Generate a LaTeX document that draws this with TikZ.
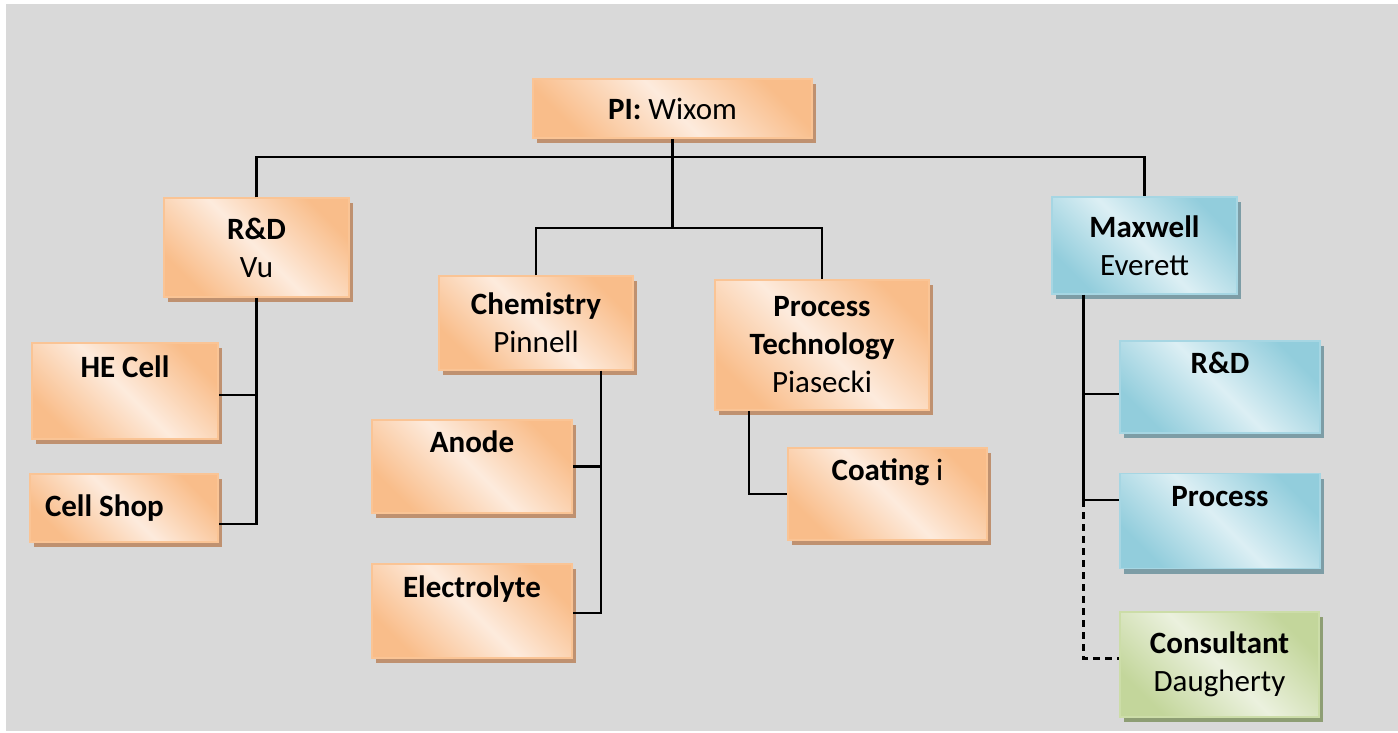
\documentclass[tikz,border=0pt]{standalone}
\usepackage{fontspec}
\setmainfont{Carlito}
\usepackage{tikz}
\usetikzlibrary{shadows}

\definecolor{bggray}{HTML}{D9D9D9}
\definecolor{ordark}{HTML}{F9BD8A}
\definecolor{orlight}{HTML}{FDEBDD}
\definecolor{orline}{HTML}{FAC495}
\definecolor{orshade}{HTML}{BF9170}
\definecolor{bldark}{HTML}{92CDDC}
\definecolor{bllight}{HTML}{DCEFF4}
\definecolor{blline}{HTML}{A6D6E3}
\definecolor{blshade}{HTML}{7D9DA6}
\definecolor{grdark}{HTML}{C3D69B}
\definecolor{grlight}{HTML}{EBF1DE}
\definecolor{grline}{HTML}{CCDDA8}
\definecolor{grshade}{HTML}{8E9E74}

\begin{document}
\begin{tikzpicture}[
    x=1pt, y=-1pt,
    box/.style={rectangle,line width=1.5pt,align=center,inner sep=0pt,font=\fontsize{31pt}{38pt}\selectfont},
    orangebox/.style={box,draw=orline,top color=ordark,bottom color=ordark,middle color=orlight,shading angle=-45,
        drop shadow={shadow xshift=4pt,shadow yshift=-5pt,fill=orshade,opacity=1}},
    bluebox/.style={box,draw=blline,top color=bldark,bottom color=bldark,middle color=bllight,shading angle=-45,
        drop shadow={shadow xshift=4pt,shadow yshift=-5pt,fill=blshade,opacity=1}},
    greenbox/.style={box,draw=grline,top color=grdark,bottom color=grdark,middle color=grlight,shading angle=-45,
        drop shadow={shadow xshift=4pt,shadow yshift=-5pt,fill=grshade,opacity=1}},
    link/.style={line width=2.2pt}
]

\useasboundingbox (0,0) rectangle (1398,732);
\fill[bggray] (6,4) rectangle (1398,731);

\node[orangebox, minimum width=279pt, minimum height=59pt] (pi) at (672.5,108.5) {\textbf{PI:} Wixom};
\node[orangebox, minimum width=185pt, minimum height=99pt] (rd) at (256.5,247.5) {\textbf{R\&D}\\Vu};
\node[orangebox, minimum width=186pt, minimum height=96pt] (hecell) at (125,391) {\textbf{HE Cell}\\\strut};
\node[orangebox, minimum width=188pt, minimum height=68pt, text width=158pt, align=flush left] (cellshop) at (124,508) {\textbf{Cell Shop}};
\node[orangebox, minimum width=194pt, minimum height=94pt] (chem) at (536,323) {\textbf{Chemistry}\\Pinnell};
\node[orangebox, minimum width=200pt, minimum height=93pt] (anode) at (472,466.5) {\textbf{Anode}\\\strut};
\node[orangebox, minimum width=200pt, minimum height=94pt] (electro) at (472,611) {\textbf{Electrolyte}\\\strut};
\node[orangebox, minimum width=214pt, minimum height=130pt] (ptech) at (822,345) {\textbf{Process}\\\textbf{Technology}\\Piasecki};
\node[orangebox, minimum width=199pt, minimum height=92pt] (coating) at (887.5,494) {\textbf{Coating} i\\\strut};
\node[bluebox, minimum width=185pt, minimum height=97pt] (mx) at (1144.5,245.5) {\textbf{Maxwell}\\Everett};
\node[bluebox, minimum width=200pt, minimum height=92pt] (rd2) at (1220,387) {\textbf{R\&D}\\\strut};
\node[bluebox, minimum width=200pt, minimum height=95pt] (proc2) at (1220,521) {\textbf{Process}\\\strut};
\node[greenbox, minimum width=199pt, minimum height=105pt] (consult) at (1219.5,664.5) {\textbf{Consultant}\\Daugherty};

% top levels
\coordinate (topbar) at (672.5,157);
\coordinate (midbar) at (672.5,228);
\draw[link] (pi.south) -- (midbar);
\draw[link] (rd.north) |- (topbar) -| (mx.north);
\draw[link] (chem.north) |- (midbar) -| (ptech.north);

% R&D
\draw[link] (rd.south) |- ([yshift=-4pt]hecell.east);
\draw[link] (rd.south) |- ([yshift=-16pt]cellshop.east);

% chemistry
\draw[link] ([xshift=65pt]chem.south) |- (anode.east);
\draw[link] ([xshift=65pt]chem.south) |- ([yshift=-2pt]electro.east);

% process technology
\draw[link] ([xshift=-73pt]ptech.south) |- (coating.west);

% Maxwell
\coordinate (mxjoin) at (1083.5,500);
\draw[link] ([xshift=-61pt]mx.south) |- ([yshift=-7pt]rd2.west);
\draw[link] ([xshift=-61pt]mx.south) -- (mxjoin) -- (mxjoin -| proc2.west);
\draw[link, dash pattern=on 7pt off 5pt] (mxjoin) |- ([yshift=6pt]consult.west);

\end{tikzpicture}
\end{document}
